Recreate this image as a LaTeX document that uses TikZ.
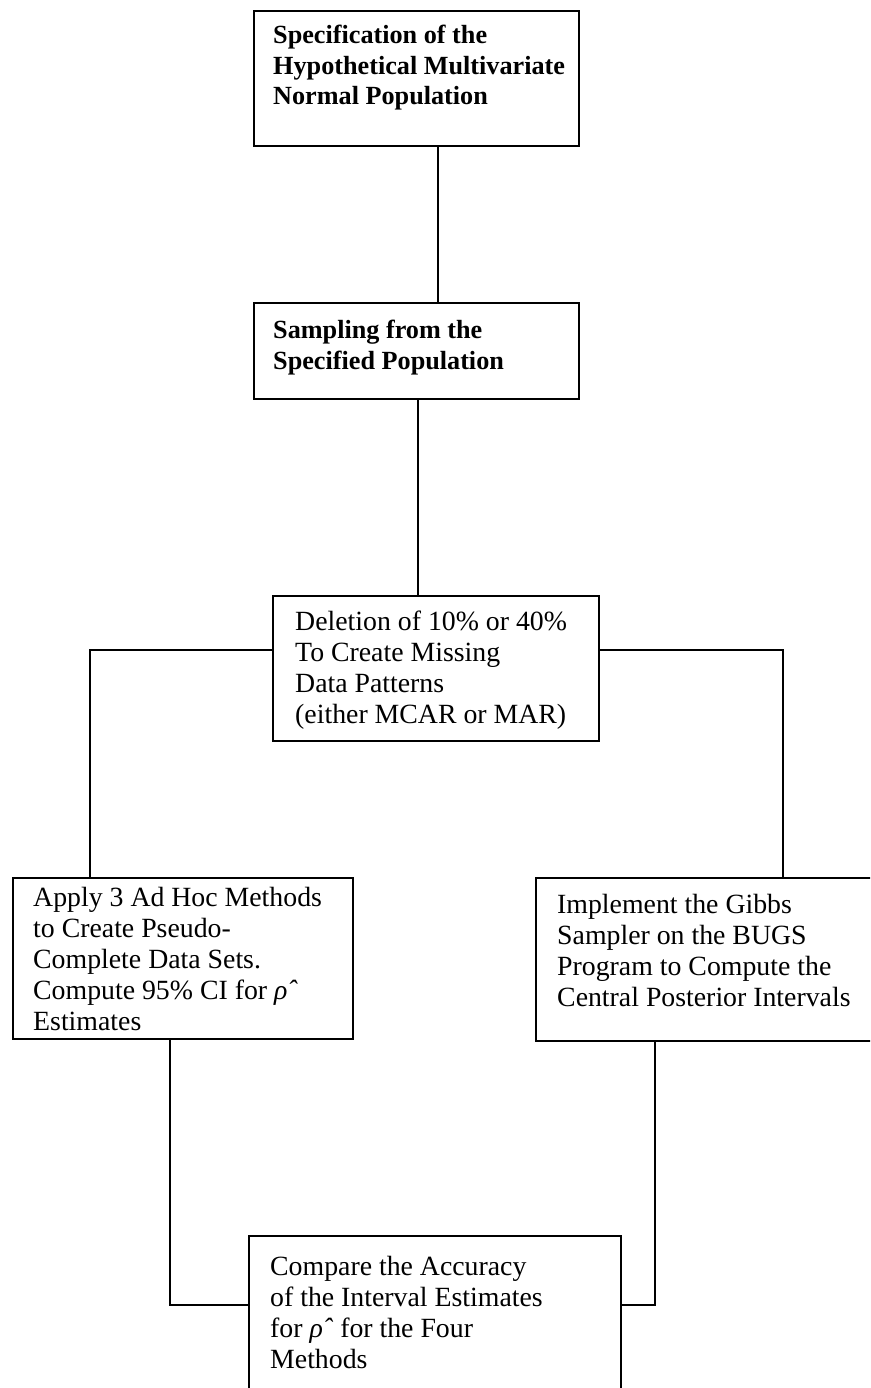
\documentclass[tikz,border=0pt]{standalone}
\usepackage{fontspec}
\setmainfont{Liberation Serif}
\begin{document}
\begin{tikzpicture}[x=1pt,y=-1pt,
  box/.style={draw, line width=2.4pt, inner sep=0pt, anchor=north west},
  lbl/.style={anchor=north west, inner sep=0pt, align=left, font=\fontsize{27.8}{31}\selectfont},
  blbl/.style={lbl, font=\bfseries\fontsize{26.2}{30.5}\selectfont},
  conn/.style={line width=2.4pt}]
\clip (0,0) rectangle (870,1388);
% boxes
\node[box, minimum width=325pt, minimum height=135pt] (b1) at (253,10) {};
\node[box, minimum width=325pt, minimum height=96pt] (b2) at (253,302) {};
\node[box, minimum width=326pt, minimum height=145pt] (b3) at (272,595) {};
\node[box, minimum width=340pt, minimum height=161pt] (b4) at (12,877) {};
\node[box, minimum width=340pt, minimum height=163pt] (b5) at (535,877) {};
\node[box, minimum width=372pt, minimum height=200pt] (b6) at (248,1235) {};
% texts
\node[blbl] (t1) at (273,25) {Specification of the\\Hypothetical Multivariate\\Normal Population};
\node[blbl] (t2) at (273,320) {Sampling from the\\Specified Population};
\node[lbl] (t3) at (295,611) {Deletion of 10\% or 40\%\\To Create Missing\\Data Patterns\\(either MCAR or MAR)};
\node[lbl] (t4) at (33,887) {Apply 3 Ad Hoc Methods\\to Create Pseudo-\\Complete Data Sets.\\Compute 95\% CI for \textit{\^{ρ}}\\Estimates};
\node[lbl] (t5) at (557,894) {Implement the Gibbs\\Sampler on the BUGS\\Program to Compute the\\Central Posterior Intervals};
\node[lbl] (t6) at (270,1256) {Compare the Accuracy\\of the Interval Estimates\\for \textit{\^{ρ}} for the Four\\Methods};
% helper coordinates
\coordinate (xa) at (438,0);
\coordinate (xb) at (418,0);
\coordinate (ym) at (0,650);
\coordinate (xl) at (90,0);
\coordinate (xr) at (783,0);
\coordinate (xbl) at (170,0);
\coordinate (xbr) at (655,0);
\coordinate (yb) at (0,1305);
% connectors
\draw[conn] (b1.south -| xa) -- (b2.north -| xa);
\draw[conn] (b2.south -| xb) -- (b3.north -| xb);
\draw[conn] (b3.west |- ym) -| (b4.north -| xl);
\draw[conn] (b3.east |- ym) -| (b5.north -| xr);
\draw[conn] (b4.south -| xbl) |- (b6.west |- yb);
\draw[conn] (b5.south -| xbr) |- (b6.east |- yb);
\end{tikzpicture}
\end{document}
